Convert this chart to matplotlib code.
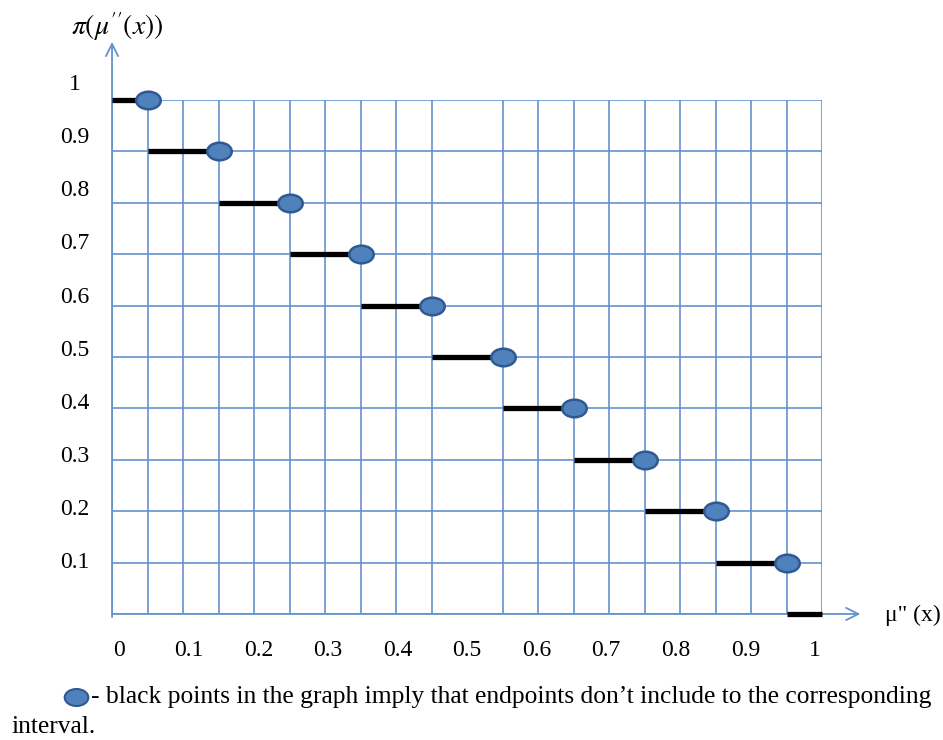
import numpy as np
import matplotlib.pyplot as plt
from matplotlib.path import Path
from matplotlib.transforms import Affine2D

plt.rcParams['font.family'] = ['Liberation Serif', 'DejaVu Serif']
plt.rcParams['mathtext.fontset'] = 'stix'

# step function pi(mu''(x)): each level holds on [start, end)
seg_start = [0, 0.05, 0.15, 0.25, 0.35, 0.45, 0.55, 0.65, 0.75, 0.85, 0.95]
seg_end = [0.05, 0.15, 0.25, 0.35, 0.45, 0.55, 0.65, 0.75, 0.85, 0.95, 1.0]
seg_level = [1, 0.9, 0.8, 0.7, 0.6, 0.5, 0.4, 0.3, 0.2, 0.1, 0]

# open endpoints (not included in the interval)
open_x = seg_end[:-1]
open_y = seg_level[:-1]

x_ticks = [0, 0.1, 0.2, 0.3, 0.4, 0.5, 0.6, 0.7, 0.8, 0.9, 1]
x_labels = ['0', '0.1', '0.2', '0.3', '0.4', '0.5', '0.6', '0.7', '0.8', '0.9', '1']
y_ticks = [0.1, 0.2, 0.3, 0.4, 0.5, 0.6, 0.7, 0.8, 0.9, 1]
y_labels = ['0.1', '0.2', '0.3', '0.4', '0.5', '0.6', '0.7', '0.8', '0.9', '1']

grid_blue = '#6492cc'
dot_fill = '#4f81bd'
dot_edge = '#2f5a91'

fig = plt.figure(figsize=(9.43, 7.4), dpi=100)
ax = fig.add_axes([0.1188, 0.1703, 0.7529, 0.6946])

# grid every 0.05 in x and 0.1 in y
ax.set_xticks(np.arange(0, 1.001, 0.05), minor=True)
ax.set_yticks(np.arange(0, 1.001, 0.1), minor=True)
ax.grid(which='minor', color=grid_blue, linewidth=1.2)
ax.tick_params(which='both', length=0)
for s in ax.spines.values():
    s.set_visible(False)

# tick labels sit a little off the grid lines, as in the hand-made drawing
ax.set_xticks([0.01 + 0.98 * v for v in x_ticks])
ax.set_xticklabels(x_labels, fontsize=17)
ax.tick_params(axis='x', pad=19)
ax.set_yticks([])
ylab_trans = ax.get_yaxis_transform()
for v, lab in zip(y_ticks, y_labels):
    ax.text(-0.052, 1.034 * v - 0.004, lab, transform=ylab_trans,
            ha='center', va='center', fontsize=17, clip_on=False)
ax.set_xlim(0, 1)
ax.set_ylim(0, 1)

# axes with open arrowheads
ax.annotate('', xy=(0, 1.113), xytext=(0, -0.006), xycoords='axes fraction',
            arrowprops=dict(arrowstyle='->', color=grid_blue, lw=1.3,
                            mutation_scale=22, shrinkA=0, shrinkB=0),
            annotation_clip=False)
ax.annotate('', xy=(1.054, 0), xytext=(0, 0), xycoords='axes fraction',
            arrowprops=dict(arrowstyle='->', color=grid_blue, lw=1.3,
                            mutation_scale=22, shrinkA=0, shrinkB=0),
            annotation_clip=False)

ax.text(0.007, 1.142, r"$\pi(\mu^{\prime\prime}(x))$", transform=ax.transAxes,
        ha='center', va='center', fontsize=20)
ax.text(1.089, -0.002, 'μ" (x)', transform=ax.transAxes,
        ha='left', va='center', fontsize=17)

# horizontal steps
ax.hlines(seg_level, seg_start, seg_end, colors='black', linewidth=3.8,
          zorder=3, clip_on=False)

# elliptical markers for the excluded endpoints
ellipse = Path.unit_circle().transformed(Affine2D().scale(1.0, 0.72))
ax.scatter(open_x, open_y, marker=ellipse, s=310, facecolor=dot_fill,
           edgecolor=dot_edge, linewidth=1.8, zorder=4, clip_on=False)

# note below the chart
fig.lines.append(plt.Line2D([0.0806], [0.058], transform=fig.transFigure,
                            marker=ellipse, markersize=17, markerfacecolor=dot_fill,
                            markeredgecolor=dot_edge, markeredgewidth=1.5))
fig.text(0.097, 0.058,
         '- black points in the graph imply that endpoints don\u2019t include to the corresponding',
         ha='left', va='center', fontsize=18.4)
fig.text(0.012, 0.018, 'interval.', ha='left', va='center', fontsize=18.4)

fig.savefig('out.png', dpi=100)
